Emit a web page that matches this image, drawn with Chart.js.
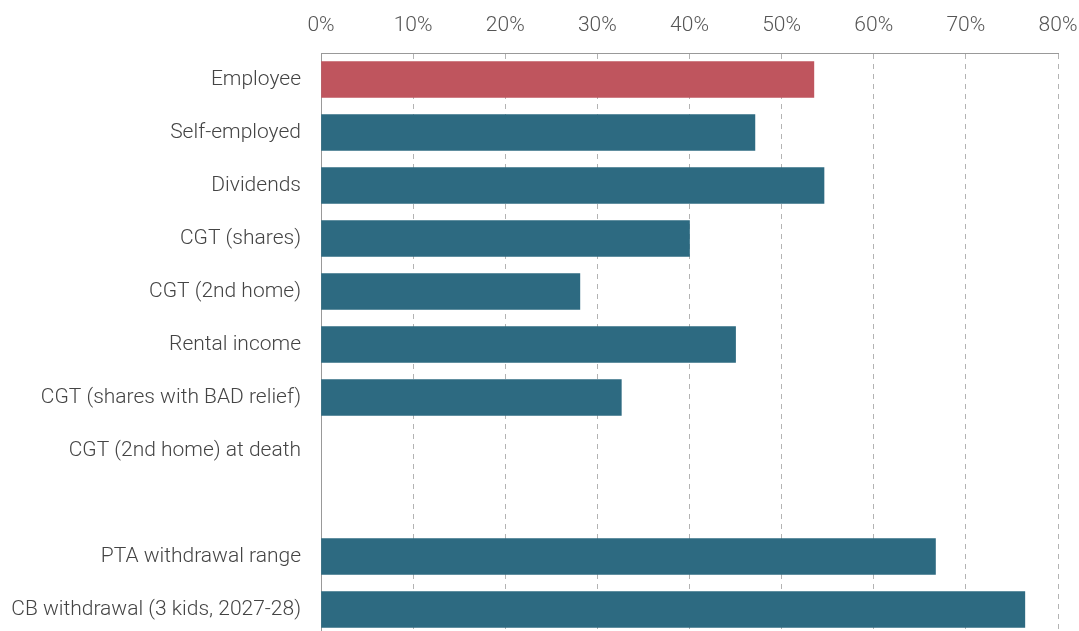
<!DOCTYPE html>
<html>
<head>
<meta charset="utf-8">
<script src="https://cdn.jsdelivr.net/npm/chart.js@4"></script>
<style>
  html, body { margin: 0; padding: 0; background: #fff; overflow: hidden; }
  #wrap { width: 1079px; height: 636px; position: relative; }
</style>
</head>
<body>
<div id="wrap"><canvas id="chart"></canvas></div>
<script>
var categories = ['Employee', 'Self-employed', 'Dividends', 'CGT (shares)', 'CGT (2nd home)',
    'Rental income', 'CGT (shares with BAD relief)', 'CGT (2nd home) at death', '',
    'PTA withdrawal range', 'CB withdrawal (3 kids, 2027-28)']

var rates = [53.5, 47.1, 54.6, 40.0, 28.1, 45.0, 32.6, null, null, 66.7, 76.4]

var xTicks = [0, 10, 20, 30, 40, 50, 60, 70, 80]

var highlight = 'Employee'

var colors = categories.map(function (c) {
    return c === highlight ? '#bf555e' : '#2d6a81'
})

var ctx = document.getElementById('chart')

new Chart(ctx, {
    type: 'bar',
    data: {
        labels: categories,
        datasets: [{
            data: rates,
            backgroundColor: colors,
            borderWidth: 0,
            barThickness: 36
        }]
    },
    options: {
        indexAxis: 'y',
        responsive: true,
        maintainAspectRatio: false,
        animation: false,
        layout: { padding: 0 },
        plugins: {
            legend: { display: false },
            tooltip: { enabled: false }
        },
        scales: {
            x: {
                position: 'top',
                min: 0,
                max: 80,
                afterBuildTicks: function (axis) {
                    axis.ticks = xTicks.map(function (v) { return { value: v } })
                },
                afterFit: function (axis) {
                    axis.height = 53
                    axis.paddingLeft = 0
                    axis.paddingRight = 21
                },
                grid: {
                    color: '#b3b3b3',
                    drawTicks: false,
                    lineWidth: 1
                },
                border: { display: true, color: '#999', dash: [5, 5] },
                ticks: {
                    padding: 15,
                    color: '#555',
                    font: { family: 'Roboto', size: 21, weight: 300 },
                    callback: function (v) { return v + '%' }
                }
            },
            y: {
                afterFit: function (axis) {
                    axis.width = 321
                    axis.paddingTop = 0
                    axis.paddingBottom = 0
                },
                grid: { display: false, drawTicks: false },
                border: { display: true, color: '#999' },
                ticks: {
                    padding: 20,
                    color: '#444',
                    font: { family: 'Roboto', size: 21, weight: 300 }
                }
            }
        }
    },
    plugins: [{
        id: 'frame',
        beforeDatasetsDraw: function (chart) {
            var c = chart.ctx, a = chart.chartArea
            c.save()
            c.strokeStyle = '#999'
            c.lineWidth = 1
            c.beginPath()
            c.moveTo(a.left, a.top + 0.5)
            c.lineTo(a.right, a.top + 0.5)
            c.stroke()
            c.restore()
        }
    }]
})
</script>
</body>
</html>
